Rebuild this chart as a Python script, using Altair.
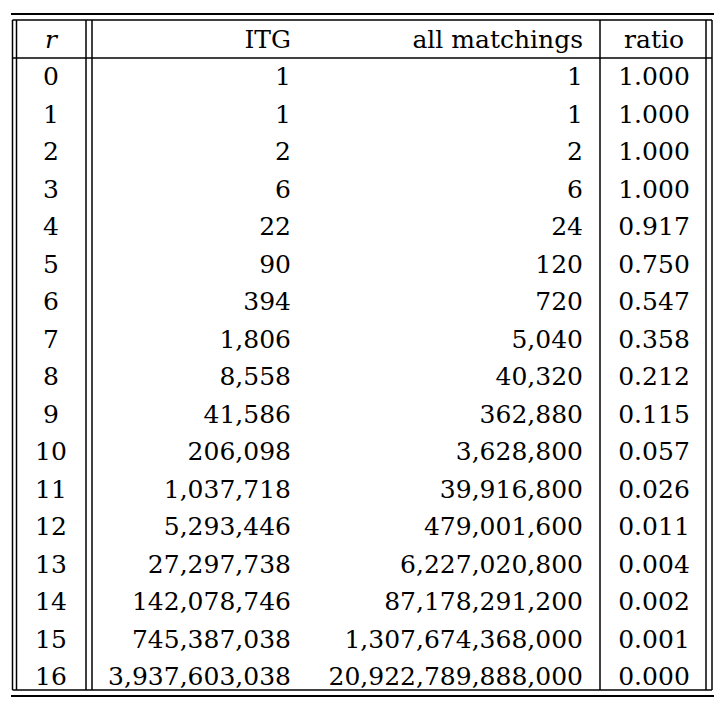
import pandas as pd
import altair as alt

# table values
r_vals = [0, 1, 2, 3, 4, 5, 6, 7, 8, 9, 10, 11, 12, 13, 14, 15, 16]
itg = [1, 1, 2, 6, 22, 90, 394, 1806, 8558, 41586, 206098, 1037718,
       5293446, 27297738, 142078746, 745387038, 3937603038]
all_matchings = [1, 1, 2, 6, 24, 120, 720, 5040, 40320, 362880, 3628800,
                 39916800, 479001600, 6227020800, 87178291200,
                 1307674368000, 20922789888000]
ratio = ["1.000", "1.000", "1.000", "1.000", "0.917", "0.750", "0.547",
         "0.358", "0.212", "0.115", "0.057", "0.026", "0.011", "0.004",
         "0.002", "0.001", "0.000"]
headers = ["r", "ITG", "all matchings", "ratio"]

FONT = "DejaVu Serif"
SIZE = 25

body = pd.DataFrame({
    "row": r_vals,
    "r": [str(v) for v in r_vals],
    "itg": [f"{v:,}" for v in itg],
    "all": [f"{v:,}" for v in all_matchings],
    "ratio": ratio,
})
head = pd.DataFrame({"row": [-1], "r": [headers[0]], "itg": [headers[1]],
                     "all": [headers[2]], "ratio": [headers[3]]})

yscale = alt.Scale(domain=[-1, 16], range=[39.5, 677])


def text_col(df, field, x, align, style="normal"):
    return alt.Chart(df).mark_text(
        align=align, baseline="alphabetic", font=FONT, fontSize=SIZE,
        fontStyle=style, color="black"
    ).encode(
        x=alt.value(x),
        y=alt.Y("row:Q", scale=yscale, axis=None),
        text=f"{field}:N",
    )


def hline(y, x1, x2, w):
    return alt.Chart(pd.DataFrame({"k": [0]})).mark_rule(
        color="black", strokeWidth=w
    ).encode(x=alt.value(x1), x2=alt.value(x2), y=alt.value(y))


def vline(x, y1=12, y2=682, w=1.5):
    return alt.Chart(pd.DataFrame({"k": [0]})).mark_rule(
        color="black", strokeWidth=w
    ).encode(x=alt.value(x), y=alt.value(y1), y2=alt.value(y2))


texts = [
    text_col(body, "r", 43, "center"),
    text_col(body, "itg", 283, "right"),
    text_col(body, "all", 575, "right"),
    text_col(body, "ratio", 646, "center"),
    text_col(head, "r", 43, "center", "italic"),
    text_col(head, "itg", 283, "right"),
    text_col(head, "all", 575, "right"),
    text_col(head, "ratio", 646, "center"),
]

lines = [
    hline(6, 3, 706, 2.2),
    hline(12, 4.5, 704, 1.5),
    hline(50, 4.5, 704, 1.5),
    hline(682, 4.5, 704, 1.5),
    hline(688, 3, 706, 2.2),
]
for xv in [4.5, 8.5, 78, 84, 592, 698, 704]:
    lines.append(vline(xv))

chart = alt.layer(*lines, *texts).properties(
    width=710,
    height=702,
    autosize=alt.AutoSizeParams(type="none"),
    padding=0,
).configure_view(stroke=None)

chart.save("out.html", embed_options={"renderer": "svg", "actions": False})
